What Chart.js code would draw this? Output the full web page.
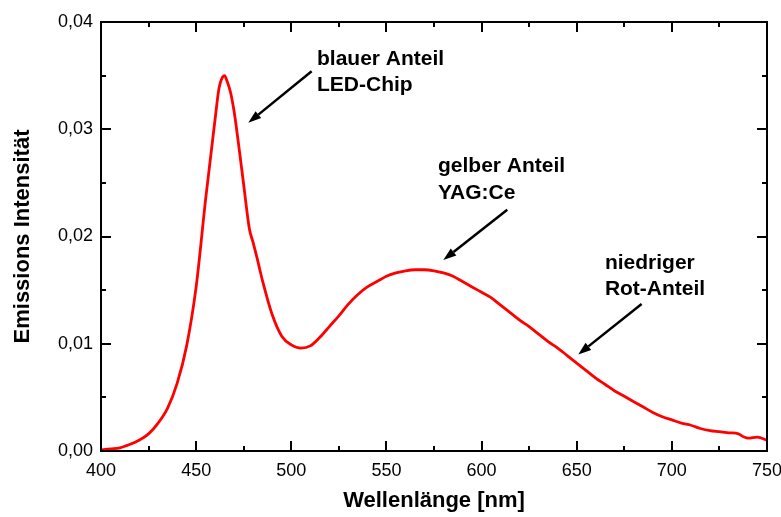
<!DOCTYPE html>
<html>
<head>
<meta charset="utf-8">
<title>Emissionsspektrum weiße LED</title>
<script src="https://cdn.jsdelivr.net/npm/chart.js@4.4.1/dist/chart.umd.min.js"></script>
<style>
    html, body { margin: 0; padding: 0; background: #ffffff; }
    #wrap { width: 781px; height: 517px; }
</style>
</head>
<body>
<div id="wrap"><canvas id="spectrumChart" width="781" height="517"></canvas></div>
<script>
// ============================================
// DATEN
// ============================================

const wavelengths = [
    400, 405, 410, 415, 420, 425, 430, 435, 440, 445,
    450, 455, 458, 460, 462, 464, 465, 466, 468, 470,
    472, 475, 478, 480, 482, 485, 490, 495, 500, 505,
    510, 515, 520, 525, 530, 535, 540, 545, 550, 555,
    560, 565, 570, 575, 580, 585, 590, 595, 600, 605,
    610, 615, 620, 625, 630, 635, 640, 645, 650, 655,
    660, 665, 670, 675, 680, 685, 690, 695, 700, 705,
    710, 715, 720, 725, 730, 735, 738, 740, 745, 750
];

const intensities = [
    0.0001, 0.0002, 0.0003, 0.0006, 0.0010, 0.0016, 0.0026, 0.0040, 0.0063, 0.0098,
    0.0153, 0.0235, 0.0280, 0.0310, 0.0338, 0.0349, 0.0350, 0.0346, 0.0335, 0.0316,
    0.0290, 0.0248, 0.0207, 0.0194, 0.0180, 0.0158, 0.0127, 0.0107, 0.0099, 0.0096,
    0.0098, 0.0106, 0.0116, 0.0126, 0.0137, 0.0146, 0.0153, 0.0158, 0.0163, 0.0166,
    0.0168, 0.0169, 0.0169, 0.0168, 0.0166, 0.0163, 0.0158, 0.0153, 0.0148, 0.0143,
    0.0136, 0.0129, 0.0122, 0.0116, 0.0109, 0.0102, 0.0096, 0.0089, 0.0082, 0.0075,
    0.0068, 0.0062, 0.0056, 0.0051, 0.0046, 0.0041, 0.0036, 0.0032, 0.0029, 0.0026,
    0.0024, 0.0021, 0.0019, 0.0018, 0.0017, 0.0016, 0.0013, 0.0012, 0.0013, 0.0010
];

const xTicks = [400, 450, 500, 550, 600, 650, 700, 750];
const yTicks = [0.00, 0.01, 0.02, 0.03, 0.04];

const xTitle = 'Wellenlänge [nm]';
const yTitle = 'Emissions Intensität';

const annotationTexts = [
    ['blauer Anteil', 'LED-Chip'],
    ['gelber Anteil', 'YAG:Ce'],
    ['niedriger', 'Rot-Anteil']
];

// Lage der Beschriftungen und Pfeile in Datenkoordinaten
const annotationPlaces = [
    { tx: 513.5, ty: 0.0360, from: [510.7, 0.0354], to: [477.4, 0.0306] },
    { tx: 577.1, ty: 0.0260, from: [613.5, 0.0225], to: [579.9, 0.0178] },
    { tx: 664.8, ty: 0.0170, from: [684.1, 0.0137], to: [650.8, 0.0090] }
];

// ============================================
// PLUGIN: Rahmen, Ticks nach innen, Pfeile
// ============================================

const FONT = '"Liberation Sans", Arial, Helvetica, sans-serif';

const framePlugin = {
    id: 'frame',
    afterDatasetsDraw(chart) {
        const { ctx, chartArea: a, scales } = chart;
        const xs = scales.x;
        const ys = scales.y;

        ctx.save();
        ctx.strokeStyle = '#000';
        ctx.lineWidth = 2;
        ctx.strokeRect(a.left, a.top, a.right - a.left, a.bottom - a.top);

        // x ticks (major + minor)
        for (let v = xTicks[0]; v <= xTicks[xTicks.length - 1]; v += 25) {
            const px = Math.round(xs.getPixelForValue(v));
            const len = (v % 50 === 0) ? 10 : 5;
            ctx.beginPath();
            ctx.moveTo(px, a.bottom);
            ctx.lineTo(px, a.bottom - len);
            ctx.moveTo(px, a.top);
            ctx.lineTo(px, a.top + len);
            ctx.stroke();
        }
        // y ticks (major + minor)
        for (let i = 0; i <= 8; i++) {
            const v = i * 0.005;
            const py = Math.round(ys.getPixelForValue(v));
            const len = (i % 2 === 0) ? 10 : 5;
            ctx.beginPath();
            ctx.moveTo(a.left, py);
            ctx.lineTo(a.left + len, py);
            ctx.moveTo(a.right, py);
            ctx.lineTo(a.right - len, py);
            ctx.stroke();
        }

        // Beschriftungen
        ctx.fillStyle = '#000';
        ctx.font = 'bold 21px ' + FONT;
        ctx.textAlign = 'left';
        ctx.textBaseline = 'alphabetic';
        annotationPlaces.forEach((p, i) => {
            const x = xs.getPixelForValue(p.tx);
            const y = ys.getPixelForValue(p.ty);
            annotationTexts[i].forEach((line, k) => {
                ctx.fillText(line, x, y + k * 26.5);
            });

            // Pfeil
            const x1 = xs.getPixelForValue(p.from[0]);
            const y1 = ys.getPixelForValue(p.from[1]);
            const x2 = xs.getPixelForValue(p.to[0]);
            const y2 = ys.getPixelForValue(p.to[1]);
            const ang = Math.atan2(y2 - y1, x2 - x1);
            const head = 13;
            const half = 4.5;
            const bx = x2 - head * Math.cos(ang);
            const by = y2 - head * Math.sin(ang);
            ctx.lineWidth = 2.5;
            ctx.beginPath();
            ctx.moveTo(x1, y1);
            ctx.lineTo(bx, by);
            ctx.stroke();
            ctx.beginPath();
            ctx.moveTo(x2, y2);
            ctx.lineTo(bx + half * Math.sin(ang), by - half * Math.cos(ang));
            ctx.lineTo(bx - half * Math.sin(ang), by + half * Math.cos(ang));
            ctx.closePath();
            ctx.fill();
        });
        ctx.restore();
    }
};

// ============================================
// CHART
// ============================================

function createSpectrumChart() {
    const ctx = document.getElementById('spectrumChart');
    const points = wavelengths.map((w, i) => ({ x: w, y: intensities[i] }));

    new Chart(ctx, {
        type: 'line',
        data: {
            datasets: [{
                data: points,
                borderColor: '#ff0000',
                borderWidth: 2.8,
                pointRadius: 0,
                fill: false,
                cubicInterpolationMode: 'monotone'
            }]
        },
        options: {
            responsive: false,
            animation: false,
            layout: { padding: { left: 0, top: 22, right: 14, bottom: 0 } },
            plugins: {
                legend: { display: false },
                tooltip: { enabled: false }
            },
            scales: {
                x: {
                    type: 'linear',
                    min: 400,
                    max: 750,
                    afterBuildTicks: scale => { scale.ticks = xTicks.map(v => ({ value: v })); },
                    afterFit: scale => { scale.height = 66; scale.paddingLeft = 0; scale.paddingRight = 0; },
                    grid: { display: false, drawTicks: false },
                    border: { display: false },
                    ticks: {
                        color: '#000',
                        padding: 9,
                        maxRotation: 0,
                        font: { family: FONT, size: 18 }
                    },
                    title: {
                        display: true,
                        text: xTitle,
                        color: '#000',
                        padding: { top: 0, bottom: 3 },
                        font: { family: FONT, size: 22, weight: 'bold' }
                    }
                },
                y: {
                    type: 'linear',
                    min: 0,
                    max: 0.04,
                    afterBuildTicks: scale => { scale.ticks = yTicks.map(v => ({ value: v })); },
                    afterFit: scale => { scale.width = 101; scale.paddingTop = 0; scale.paddingBottom = 0; },
                    grid: { display: false, drawTicks: false },
                    border: { display: false },
                    ticks: {
                        color: '#000',
                        padding: 8,
                        font: { family: FONT, size: 18 },
                        callback: v => v.toFixed(2).replace('.', ',')
                    },
                    title: {
                        display: true,
                        text: yTitle,
                        color: '#000',
                        padding: { top: 10, bottom: 0 },
                        font: { family: FONT, size: 22, weight: 'bold' }
                    }
                }
            }
        },
        plugins: [framePlugin]
    });
}

createSpectrumChart();
</script>
</body>
</html>
